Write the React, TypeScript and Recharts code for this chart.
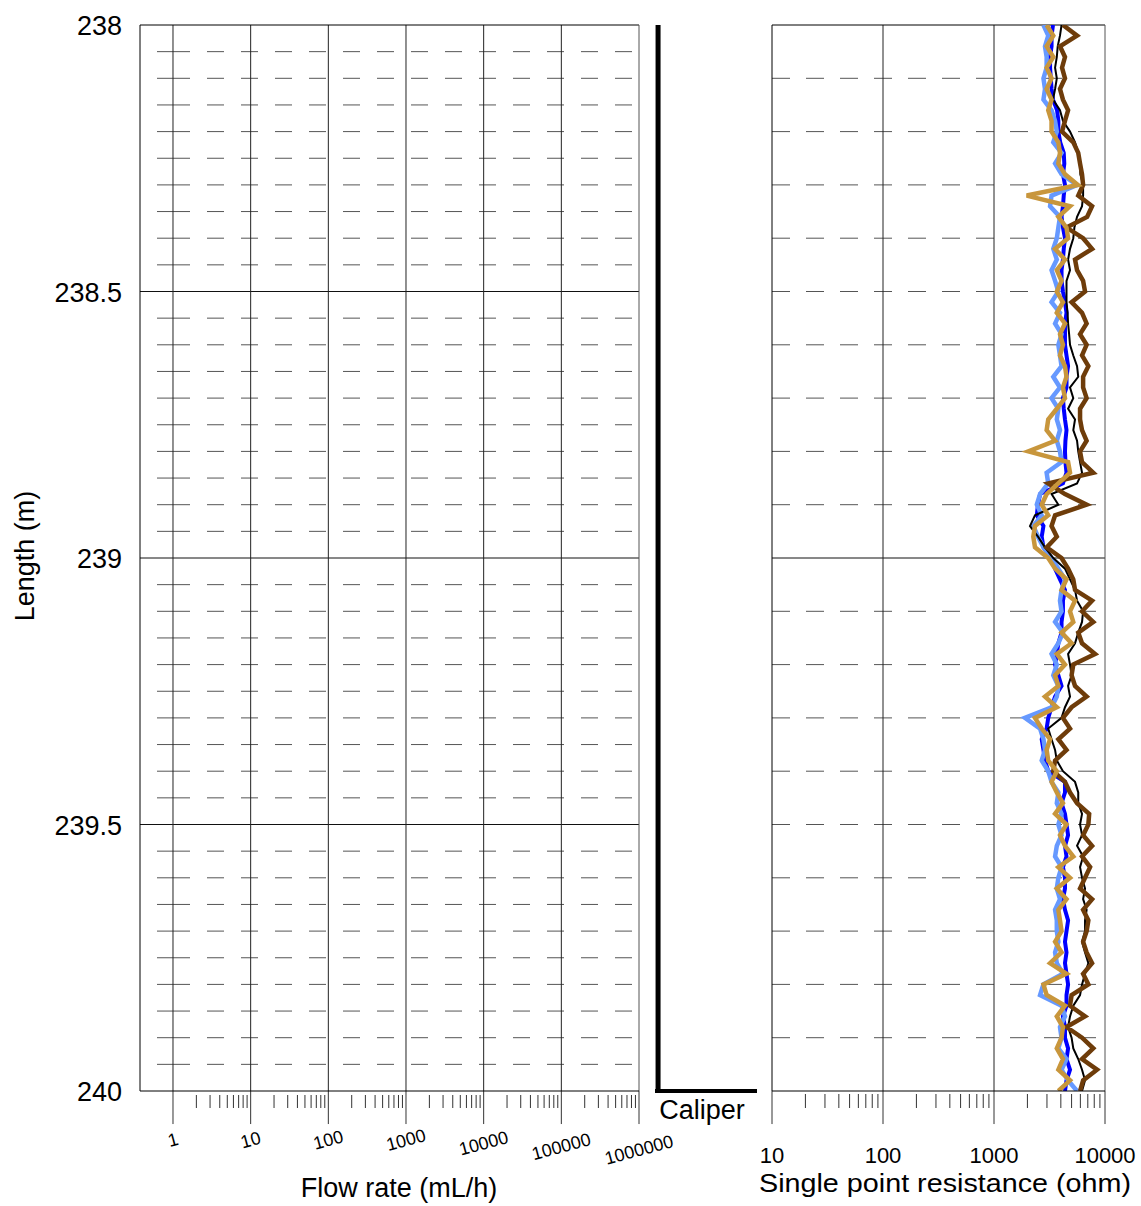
import React from 'react';
import { LineChart, Line, XAxis, YAxis, ReferenceLine } from 'recharts';

const depths = [
  238.0, 238.02, 238.04, 238.06, 238.08, 238.1, 238.12, 238.14, 238.16, 238.18,
  238.2, 238.22, 238.24, 238.26, 238.28, 238.3, 238.32, 238.34, 238.36, 238.38,
  238.4, 238.42, 238.44, 238.46, 238.48, 238.5, 238.52, 238.54, 238.56, 238.58,
  238.6, 238.62, 238.64, 238.66, 238.68, 238.7, 238.72, 238.74, 238.76, 238.78,
  238.8, 238.82, 238.84, 238.86, 238.88, 238.9, 238.92, 238.94, 238.96, 238.98,
  239.0, 239.02, 239.04, 239.06, 239.08, 239.1, 239.12, 239.14, 239.16, 239.18,
  239.2, 239.22, 239.24, 239.26, 239.28, 239.3, 239.32, 239.34, 239.36, 239.38,
  239.4, 239.42, 239.44, 239.46, 239.48, 239.5, 239.52, 239.54, 239.56, 239.58,
  239.6, 239.62, 239.64, 239.66, 239.68, 239.7, 239.72, 239.74, 239.76, 239.78,
  239.8, 239.82, 239.84, 239.86, 239.88, 239.9, 239.92, 239.94, 239.96, 239.98,
  240.0,
];

const sprBlue = [
  3400, 3300, 3300, 3200, 3200, 3250, 3300, 3400, 3700, 3800,
  3800, 3950, 4250, 4300, 4180, 4360, 4250, 4180, 4060, 4180,
  4360, 4250, 4180, 4060, 4060, 4180, 4360, 4500, 4360, 4360,
  4360, 4500, 4650, 4500, 4500, 4180, 4250, 4360, 4500, 4400,
  4360, 4400, 4500, 4180, 2600, 2490, 2430, 2790, 2690, 2790,
  3300, 3550, 3930, 4360, 4180, 4180, 4060, 4060, 3800, 3680,
  3550, 3800, 4060, 3550, 3300, 3080, 2980, 2690, 2790, 2880,
  3080, 4360, 4360, 4060, 4360, 4500, 4650, 4360, 4500, 4180,
  4360, 4360, 4180, 4360, 4650, 4500, 4360, 4500, 4360, 4500,
  4650, 4500, 4500, 4180, 4360, 4360, 4650, 4500, 4840, 4500,
  4360,
];

const sprLightBlue = [
  2790, 3080, 2880, 2980, 2980, 2790, 2880, 2790, 3300, 3550,
  3680, 3420, 4060, 3550, 4060, 5600, 3300, 3200, 3930, 3800,
  3680, 3420, 3680, 3300, 3550, 3800, 3300, 3930, 3550, 4060,
  3800, 3930, 4060, 3420, 3930, 3300, 3800, 3680, 3930, 3680,
  3930, 4060, 2980, 3080, 2600, 2430, 2690, 2260, 2490, 2790,
  3300, 3800, 4360, 4060, 3930, 4060, 3550, 4180, 3800, 3300,
  3680, 3420, 3800, 3680, 3300, 1900, 2600, 2790, 2880, 2690,
  3080, 3300, 3800, 3680, 4060, 3800, 4060, 3680, 3550, 4060,
  3800, 3680, 3930, 3550, 3680, 3680, 3800, 3550, 3680, 4180,
  2790, 2600, 4060, 4360, 3930, 4060, 3800, 4500, 4060, 4650,
  5600,
];

const sprBlack = [
  4060, 3930, 3750, 3680, 3550, 3680, 3550, 3400, 3930, 4180,
  4840, 5370, 5740, 5960, 6000, 6350, 6350, 6210, 5600, 5300,
  5180, 4840, 4650, 4840, 4500, 4500, 4500, 4600, 4650, 4750,
  4840, 5180, 5600, 5740, 4840, 5180, 4650, 5370, 5180, 5600,
  5740, 5960, 6210, 5600, 3300, 3800, 2340, 2110, 2490, 2880,
  3420, 4360, 4840, 5370, 5600, 6350, 6210, 5740, 5370, 4650,
  4840, 5000, 4650, 4840, 4360, 4060, 3080, 3300, 3550, 3680,
  4180, 5370, 5740, 5740, 6210, 5960, 6210, 5600, 6350, 5960,
  6210, 6610, 6350, 6830, 6610, 6610, 6210, 6610, 7080, 6610,
  6210, 5960, 5180, 4840, 4650, 5000, 5180, 5740, 6210, 6610,
  6210,
];

const sprBrown = [
  4180, 5600, 3930, 4360, 4100, 4360, 3930, 4180, 4650, 4360,
  4100, 5180, 5740, 5960, 6210, 6350, 5740, 7650, 6900, 4500,
  6350, 7650, 5370, 5600, 6350, 6610, 5000, 6210, 6830, 5960,
  6830, 6210, 7080, 6350, 6350, 6830, 5960, 5960, 6210, 6830,
  5960, 6210, 7840, 3080, 4360, 6830, 3550, 3300, 3680, 2980,
  4060, 4650, 5180, 5370, 7650, 6210, 7840, 5740, 6210, 8140,
  5180, 5000, 5370, 6830, 5000, 4180, 4840, 3800, 4500, 3550,
  3420, 4360, 4840, 5600, 7200, 7080, 6350, 7650, 6210, 7340,
  6610, 5960, 7650, 6350, 7080, 6830, 6350, 6830, 7650, 6350,
  7080, 5000, 4840, 6610, 4500, 6210, 7840, 6210, 8480, 6350,
  5960,
];

const sprGold = [
  2980, 3420, 2980, 3420, 2980, 3300, 2980, 3300, 3080, 3300,
  3300, 3800, 3930, 3800, 4360, 5700, 1970, 4840, 3800, 4500,
  4650, 3550, 4360, 3680, 4060, 3680, 4180, 3680, 4360, 3930,
  4180, 3930, 4360, 4500, 4180, 4360, 3680, 3080, 2980, 3550,
  2040, 4650, 4840, 3800, 2980, 2690, 3080, 2340, 2260, 2340,
  3080, 3550, 4500, 4060, 5370, 4840, 5180, 4060, 5000, 3680,
  4360, 3550, 3800, 2880, 3680, 2340, 2690, 3200, 2980, 3080,
  3680, 3300, 3680, 4180, 3550, 4500, 3930, 4360, 5180, 3800,
  4840, 3680, 4500, 3800, 3930, 4060, 3550, 4060, 3200, 4500,
  2790, 2980, 4360, 3680, 4180, 4060, 3680, 4180, 3800, 4840,
  3800,
];

const caliperDepths = [238, 240];
const caliperValues = [3, 3];

const depthTicks = [238, 238.5, 239, 239.5, 240];
const flowMajorTicks = [1, 10, 100, 1000, 10000, 100000, 1000000];
const sprMajorTicks = [10, 100, 1000, 10000];
const minorMultipliers = [2, 3, 4, 5, 6, 7, 8, 9];

const flowTicks = [
  ...flowMajorTicks,
  ...flowMajorTicks.slice(0, -1).flatMap((m) => minorMultipliers.map((k) => k * m)),
].sort((a, b) => a - b);
const sprTicks = [
  ...sprMajorTicks,
  ...sprMajorTicks.slice(0, -1).flatMap((m) => minorMultipliers.map((k) => k * m)),
].sort((a, b) => a - b);

// gridline positions
const flowDashDepths = [
  238.05, 238.1, 238.15, 238.2, 238.25, 238.3, 238.35, 238.4, 238.45,
  238.55, 238.6, 238.65, 238.7, 238.75, 238.8, 238.85, 238.9, 238.95,
  239.05, 239.1, 239.15, 239.2, 239.25, 239.3, 239.35, 239.4, 239.45,
  239.55, 239.6, 239.65, 239.7, 239.75, 239.8, 239.85, 239.9, 239.95,
];
const flowSolidDepths = [238.5, 239, 239.5];
const sprDashDepths = [
  238.1, 238.2, 238.3, 238.4, 238.5, 238.6, 238.7, 238.8, 238.9,
  239.1, 239.2, 239.3, 239.4, 239.5, 239.6, 239.7, 239.8, 239.9,
];
const sprSolidDepths = [239];
const flowGridX = [1, 10, 100, 1000, 10000, 100000];
const sprGridX = [100, 1000];
// depth span of the long (decade) tick marks hanging below the axis
const axisBottomDepth = 240;
const majorTickEndDepth = 240.062;

const sprData = depths.map((d, i) => ({
  depth: d,
  blue: sprBlue[i],
  lightBlue: sprLightBlue[i],
  black: sprBlack[i],
  brown: sprBrown[i],
  gold: sprGold[i],
}));
const caliperData = caliperDepths.map((d, i) => ({ depth: d, caliper: caliperValues[i] }));
const flowData = depths.map((d) => ({ depth: d }));

const FONT = '"Liberation Sans", Arial, Helvetica, sans-serif';

const leftDash =
  '0 17 33 17 ' + Array(13).fill('17 17').join(' ') + ' 0 300';

const FlowTick = (props: any) => {
  const v = Number(props.payload.value);
  const X = Number(props.x);
  const Y = Number(props.y);
  const major = flowMajorTicks.indexOf(v) >= 0;
  if (!major) {
    return <path d={`M${X},${Y + 4}V${Y + 17}`} stroke="#333" strokeWidth={1} fill="none" />;
  }
  const label = String(v);
  const len = label.length;
  const cy = len <= 4 ? 1140 : 1140 + 3.3 * (len - 4);
  return (
    <text
      x={X}
      y={cy}
      textAnchor="middle"
      dominantBaseline="central"
      fontSize={18}
      fontFamily={FONT}
      fill="#000"
      transform={`rotate(-15 ${X} ${cy})`}
    >
      {label}
    </text>
  );
};

const SprTick = (props: any) => {
  const v = Number(props.payload.value);
  const X = Number(props.x);
  const Y = Number(props.y);
  const major = sprMajorTicks.indexOf(v) >= 0;
  if (!major) {
    return <path d={`M${X},${Y + 3}V${Y + 17}`} stroke="#333" strokeWidth={1} fill="none" />;
  }
  return (
    <text x={X} y={1163} textAnchor="middle" fontSize={22} fontFamily={FONT} fill="#000">
      {String(v)}
    </text>
  );
};

const DepthTick = (props: any) => {
  const { x, y, payload } = props;
  return (
    <text x={x} y={Number(y) + 10} textAnchor="end" fontSize={27} fontFamily={FONT} fill="#000">
      {String(payload.value)}
    </text>
  );
};

export default function App() {
  return (
    <div
      style={{
        position: 'absolute',
        left: 0,
        top: 0,
        width: 1141,
        height: 1206,
        background: '#fff',
        overflow: 'hidden',
      }}
    >
      {/* Flow rate panel */}
      <div style={{ position: 'absolute', left: 0, top: 0 }}>
        <LineChart
          width={700}
          height={1206}
          data={flowData}
          layout="vertical"
          margin={{ top: 25, right: 61, left: 0, bottom: 0 }}
        >
          <XAxis
            type="number"
            scale="log"
            domain={[0.376, 1000000]}
            allowDataOverflow
            ticks={flowTicks}
            interval={0}
            height={115}
            tickSize={0}
            tickMargin={0}
            tickLine={false}
            axisLine={{ stroke: '#000', strokeWidth: 1 }}
            tick={FlowTick}
          />
          <YAxis
            type="number"
            dataKey="depth"
            domain={[238, 240]}
            allowDataOverflow
            ticks={depthTicks}
            interval={0}
            width={140}
            tickSize={0}
            tickMargin={18}
            tickLine={false}
            axisLine={{ stroke: '#000', strokeWidth: 1 }}
            tick={DepthTick}
          />
          {flowDashDepths.map((d) => (
            <ReferenceLine
              key={'fd' + d}
              y={d}
              stroke="#555"
              strokeWidth={1}
              strokeDasharray={leftDash}
              ifOverflow="visible"
            />
          ))}
          {flowSolidDepths.map((d) => (
            <ReferenceLine key={'fs' + d} y={d} stroke="#111" strokeWidth={1} ifOverflow="visible" />
          ))}
          {flowGridX.map((v) => (
            <ReferenceLine key={'fx' + v} x={v} stroke="#222" strokeWidth={1} ifOverflow="visible" />
          ))}
          {flowMajorTicks.map((v) => (
            <ReferenceLine
              key={'fmt' + v}
              segment={[
                { x: v, y: axisBottomDepth },
                { x: v, y: majorTickEndDepth },
              ]}
              stroke="#333"
              strokeWidth={1}
              ifOverflow="visible"
            />
          ))}
          <ReferenceLine y={238} stroke="#000" strokeWidth={1} ifOverflow="visible" />
          <ReferenceLine x={1000000} stroke="#555" strokeWidth={1} ifOverflow="visible" />
        </LineChart>
      </div>

      {/* Caliper panel */}
      <div style={{ position: 'absolute', left: 600, top: 0 }}>
        <LineChart
          width={200}
          height={1206}
          data={caliperData}
          layout="vertical"
          margin={{ top: 25, right: 43, left: 55, bottom: 0 }}
        >
          <XAxis
            type="number"
            domain={[0, 100]}
            allowDataOverflow
            height={115}
            tick={false}
            tickLine={false}
            axisLine={{ stroke: '#000', strokeWidth: 4 }}
          />
          <YAxis type="number" dataKey="depth" domain={[238, 240]} allowDataOverflow hide />
          <Line
            dataKey="caliper"
            stroke="#000"
            strokeWidth={5}
            dot={false}
            isAnimationActive={false}
          />
        </LineChart>
      </div>

      {/* Single point resistance panel */}
      <div style={{ position: 'absolute', left: 740, top: 0 }}>
        <LineChart
          width={401}
          height={1206}
          data={sprData}
          layout="vertical"
          margin={{ top: 25, right: 36, left: 32, bottom: 0 }}
        >
          <XAxis
            type="number"
            scale="log"
            domain={[10, 10000]}
            allowDataOverflow
            ticks={sprTicks}
            interval={0}
            height={115}
            tickSize={0}
            tickMargin={0}
            tickLine={false}
            axisLine={{ stroke: '#000', strokeWidth: 1 }}
            tick={SprTick}
          />
          <YAxis type="number" dataKey="depth" domain={[238, 240]} allowDataOverflow hide />
          {sprDashDepths.map((d) => (
            <ReferenceLine
              key={'sd' + d}
              y={d}
              stroke="#555"
              strokeWidth={1}
              strokeDasharray="18 16"
              ifOverflow="visible"
            />
          ))}
          {sprSolidDepths.map((d) => (
            <ReferenceLine key={'ss' + d} y={d} stroke="#111" strokeWidth={1} ifOverflow="visible" />
          ))}
          {sprGridX.map((v) => (
            <ReferenceLine key={'sx' + v} x={v} stroke="#222" strokeWidth={1} ifOverflow="visible" />
          ))}
          {sprMajorTicks.map((v) => (
            <ReferenceLine
              key={'smt' + v}
              segment={[
                { x: v, y: axisBottomDepth },
                { x: v, y: majorTickEndDepth },
              ]}
              stroke="#333"
              strokeWidth={1}
              ifOverflow="visible"
            />
          ))}
          <ReferenceLine y={238} stroke="#000" strokeWidth={1} ifOverflow="visible" />
          <ReferenceLine x={10} stroke="#000" strokeWidth={1} ifOverflow="visible" />
          <ReferenceLine x={10000} stroke="#555" strokeWidth={1} ifOverflow="visible" />
          <Line dataKey="blue" stroke="#0000FF" strokeWidth={4} dot={false} isAnimationActive={false} strokeLinejoin="miter" />
          <Line dataKey="lightBlue" stroke="#6699FF" strokeWidth={4.5} dot={false} isAnimationActive={false} strokeLinejoin="miter" />
          <Line dataKey="black" stroke="#000000" strokeWidth={2} dot={false} isAnimationActive={false} strokeLinejoin="miter" />
          <Line dataKey="brown" stroke="#6E3C0A" strokeWidth={4.5} dot={false} isAnimationActive={false} strokeLinejoin="miter" />
          <Line dataKey="gold" stroke="#C8963C" strokeWidth={4.5} dot={false} isAnimationActive={false} strokeLinejoin="miter" />
        </LineChart>
      </div>

      {/* Titles */}
      <svg
        width={1141}
        height={1206}
        style={{ position: 'absolute', left: 0, top: 0, pointerEvents: 'none' }}
      >
        <text
          x={34}
          y={556}
          textAnchor="middle"
          fontSize={27}
          fontFamily={FONT}
          fill="#000"
          transform="rotate(-90 34 556)"
        >
          Length (m)
        </text>
        <text x={399} y={1197} textAnchor="middle" fontSize={27} fontFamily={FONT} fill="#000">
          Flow rate (mL/h)
        </text>
        <text x={702} y={1119} textAnchor="middle" fontSize={27} fontFamily={FONT} fill="#000">
          Caliper
        </text>
        <text
          x={945}
          y={1192}
          textAnchor="middle"
          fontSize={26}
          fontFamily={FONT}
          fill="#000"
          textLength={372}
          lengthAdjust="spacingAndGlyphs"
        >
          Single point resistance (ohm)
        </text>
      </svg>
    </div>
  );
}
